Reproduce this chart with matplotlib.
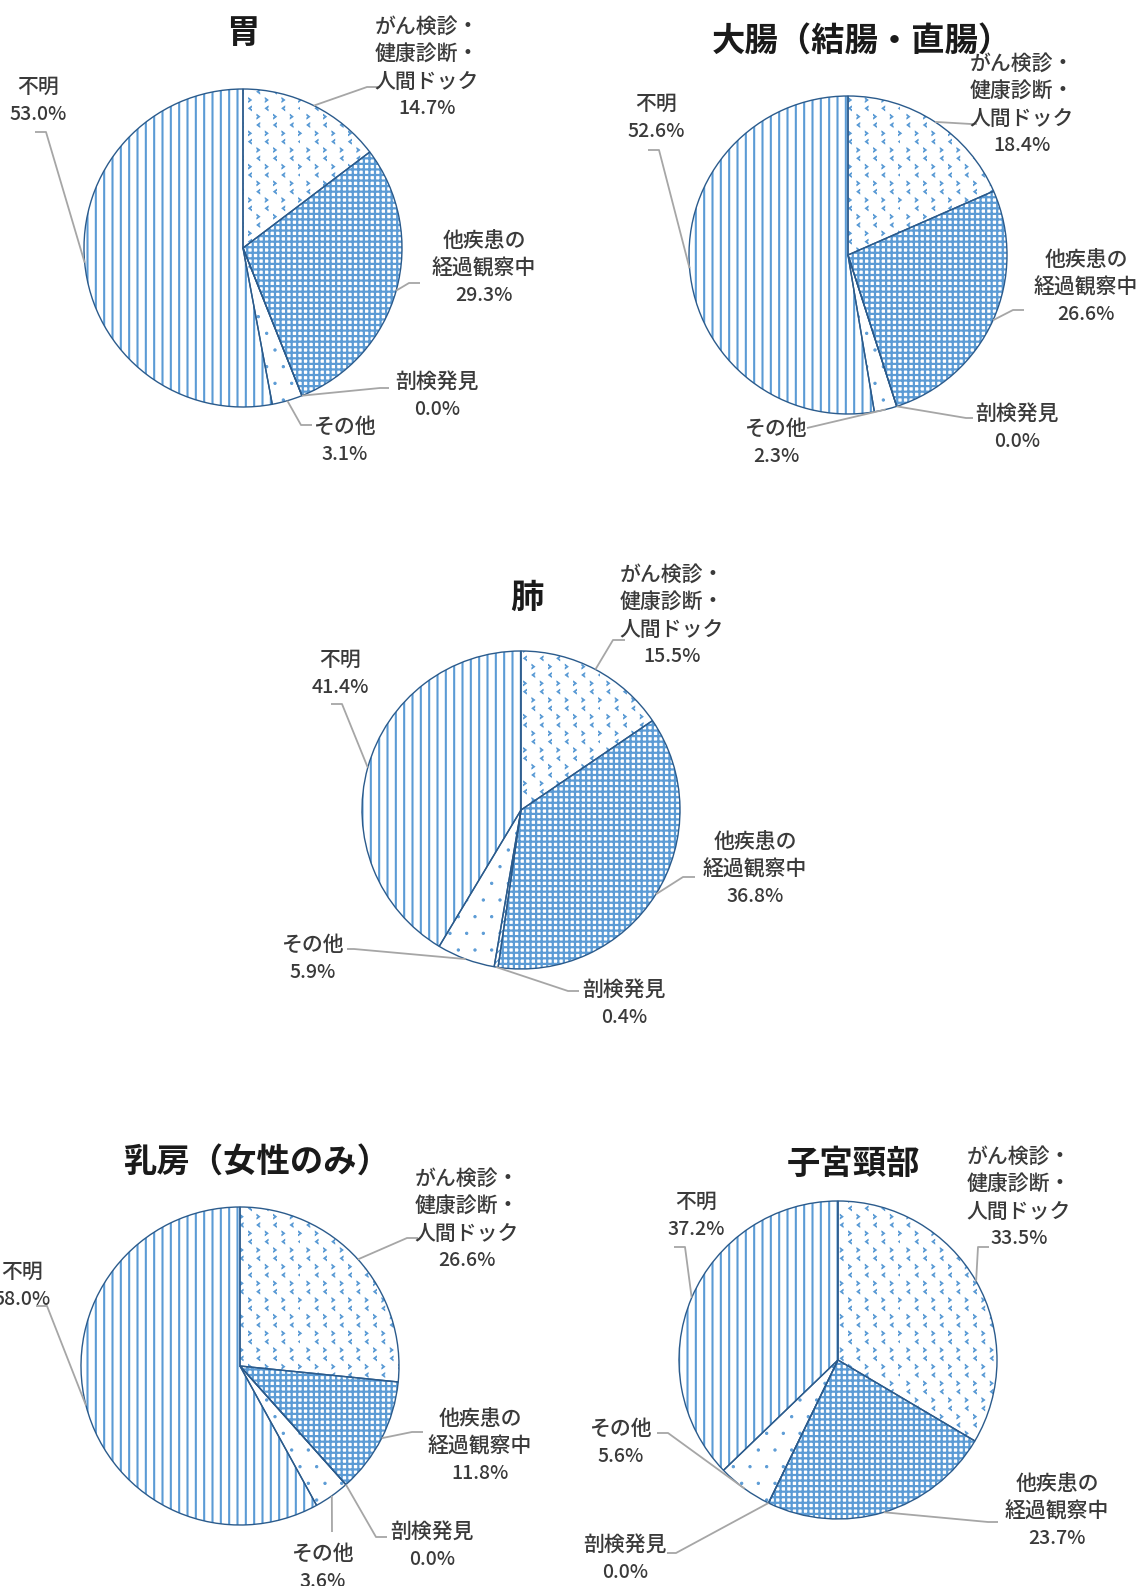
import matplotlib
matplotlib.use('Agg')
import numpy as np
import matplotlib.pyplot as plt
import matplotlib.hatch as mhatch
from matplotlib.path import Path

plt.rcParams['font.family'] = ['Noto Sans CJK JP', 'DejaVu Sans']
plt.rcParams['hatch.linewidth'] = 1.2
# finer dots for the sparse dotted fill
mhatch.SmallFilledCircles.size = 0.07


class Chevrons(mhatch.Shapes):
    """Small '>' and '<' marks (used for the '*' hatch)."""
    size = 1.0
    filled = True

    def __init__(self, hatch, density):
        self.num_rows = hatch.count('*') * density
        a, b, t = 0.085, 0.125, 0.055
        right = np.array([(-a, b), (a, 0), (-a, -b), (-a, -b + t), (a - 1.6 * t, 0),
                          (-a, b - t), (-a, b)])
        left = right * [-1, 1] + [0.5, 0.5]
        self.shape_vertices = np.concatenate([right, left])
        codes = [Path.MOVETO] + [Path.LINETO] * 5 + [Path.CLOSEPOLY]
        self.shape_codes = np.array(codes + codes, dtype=Path.code_type)
        super().__init__(hatch, density)


mhatch._hatch_types[:] = [Chevrons if t is mhatch.Stars else t
                          for t in mhatch._hatch_types]

W, H = 1139, 1586

# ---------------- data ----------------
categories = ['がん検診・\n健康診断・\n人間ドック', '他疾患の\n経過観察中', '剖検発見', 'その他', '不明']
titles = ['胃', '大腸（結腸・直腸）', '肺', '乳房（女性のみ）', '子宮頸部']
stomach = [14.7, 29.3, 0.0, 3.1, 53.0]
colon = [18.4, 26.6, 0.0, 2.3, 52.6]
lung = [15.5, 36.8, 0.4, 5.9, 41.4]
breast = [26.6, 11.8, 0.0, 3.6, 58.0]
cervix = [33.5, 23.7, 0.0, 5.6, 37.2]
series = [stomach, colon, lung, breast, cervix]

# ---------------- layout (pixels from top-left) ----------------
R = 159
centers = [(243, 248), (848, 255), (521, 810), (240, 1366), (838, 1360)]
title_pos = [(243, 34), (862, 41), (527, 598), (257, 1162), (854, 1164)]
# per label: text centre x, first line y, elbow x, end x, leader y
label_layout = [
    [(427, 27, 367, 380, 87), (484, 241, 409, 420, 283), (437, 382, 380, 389, 388),
     (345, 427, 301, 312, 425), (38, 87, 46, 35, 132)],
    [(1022, 64, 971, 977, 124), (1086, 260, 1013, 1024, 310), (1017, 414, 966, 973, 418),
     (776, 429, 807, 807, 428), (656, 104, 659, 648, 150)],
    [(672, 575, 613, 625, 640), (755, 842, 683, 695, 877), (624, 990, 568, 579, 991),
     (313, 945, 354, 347, 949), (340, 660, 342, 331, 704)],
    [(467, 1179, 407, 418, 1238), (480, 1419, 412, 423, 1432), (432, 1532, 376, 387, 1537),
     (323, 1554, 332, 332, 1532), (22, 1272, 47, 36, 1306)],
    [(1019, 1157, 978, 989, 1247), (1057, 1484, 988, 998, 1522), (625, 1545, 676, 667, 1553),
     (621, 1429, 668, 657, 1433), (696, 1202, 685, 674, 1247)],
]
LINE_PITCH = 27.3

HATCH_BLUE = '#5B9BD5'
EDGE = '#2B5B8C'
LEADER = '#A6A6A6'
TEXT = '#3A3A3A'
hatches = ['*', '+++', '////', '.', '||']
hatch_lws = [0.7, 1.6, 0.8, 0.7, 1.5]

fig = plt.figure(figsize=(W / 100, H / 100), dpi=100)
ax = fig.add_axes([0, 0, 1, 1])

for i, vals in enumerate(series):
    cx, cy = centers[i]
    center = (cx, H - cy)
    wedges, _ = ax.pie(vals, radius=R, center=center, startangle=90,
                       counterclock=False, frame=True)
    for w, h, hlw in zip(wedges, hatches, hatch_lws):
        w.set_facecolor('white')
        w.set_edgecolor(HATCH_BLUE)
        w.set_linewidth(0)
        w.set_hatch(h)
        if hasattr(w, 'set_hatch_linewidth'):
            w.set_hatch_linewidth(hlw)
    ax.pie(vals, radius=R, center=center, startangle=90, counterclock=False,
           frame=True, wedgeprops=dict(fill=False, edgecolor=EDGE, linewidth=1.0))

    tx, ty = title_pos[i]
    ax.text(tx, H - ty, titles[i], ha='center', va='center', fontsize=24,
            fontweight='bold', color='#1a1a1a')

    for w, cat, v, lay in zip(wedges, categories, vals, label_layout[i]):
        lx, ly0, ex1, ex2, ey = lay
        mid = np.deg2rad((w.theta1 + w.theta2) / 2)
        sx = center[0] + R * np.cos(mid)
        sy = center[1] + R * np.sin(mid)
        ax.plot([sx, ex1, ex2], [sy, H - ey, H - ey], color=LEADER, lw=1.3,
                solid_capstyle='butt', zorder=1)
        lines = cat.split('\n') + [f'{v:.1f}%']
        for k, line in enumerate(lines):
            ax.text(lx, H - (ly0 + k * LINE_PITCH), line, ha='center', va='center',
                    fontsize=15 if k < len(lines) - 1 else 14, color=TEXT,
                    fontweight='medium')

ax.set_xlim(0, W)
ax.set_ylim(0, H)
ax.set_aspect('equal')
ax.axis('off')
fig.savefig('out.png', dpi=100)
